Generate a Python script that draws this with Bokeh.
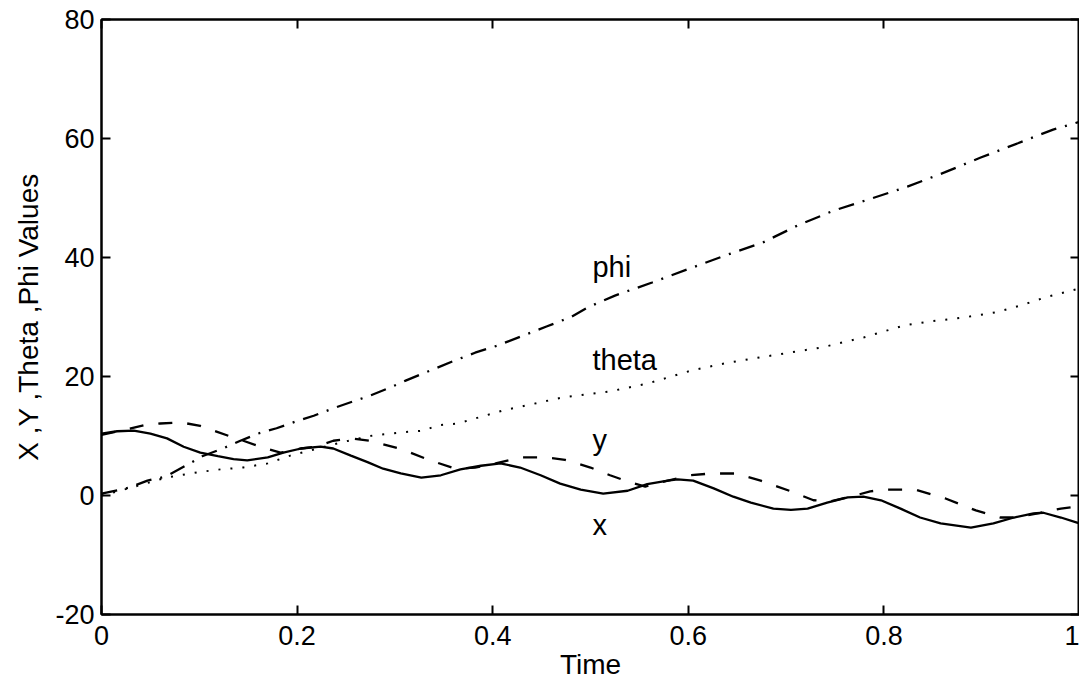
from bokeh.plotting import figure
from bokeh.models import LinearAxis, Range1d, FixedTicker, ColumnDataSource
from bokeh.core.properties import value
from bokeh.embed import file_html
from bokeh.resources import INLINE

# ---- data ----
x_ticks = [0, 0.2, 0.4, 0.6, 0.8, 1]
x_tick_labels = ["0", "0.2", "0.4", "0.6", "0.8", "1"]
y_ticks = [-20, 0, 20, 40, 60, 80]
y_tick_labels = ["-20", "0", "20", "40", "60", "80"]

x_t = [0.000, 0.016, 0.033, 0.050, 0.067, 0.084, 0.101, 0.119, 0.135, 0.149,
       0.170, 0.186, 0.204, 0.224, 0.237, 0.255, 0.272, 0.288, 0.306, 0.327,
       0.347, 0.367, 0.388, 0.408, 0.428, 0.449, 0.469, 0.490, 0.513, 0.538,
       0.558, 0.579, 0.589, 0.605, 0.626, 0.646, 0.664, 0.687, 0.705, 0.722,
       0.742, 0.763, 0.779, 0.797, 0.817, 0.837, 0.858, 0.889, 0.912, 0.933,
       0.953, 0.963, 0.981, 1.000]
x_v = [10.4, 10.8, 10.9, 10.4, 9.6, 8.2, 7.2, 6.6, 6.1, 5.9,
       6.4, 7.2, 7.9, 8.2, 7.9, 6.7, 5.6, 4.5, 3.7, 3.0,
       3.4, 4.4, 5.0, 5.4, 4.7, 3.4, 2.0, 1.0, 0.3, 0.8,
       1.9, 2.5, 2.7, 2.5, 1.2, -0.2, -1.2, -2.2, -2.4, -2.2,
       -1.2, -0.3, -0.2, -0.8, -2.2, -3.7, -4.7, -5.4, -4.7, -3.7,
       -3.0, -2.9, -3.7, -4.7]

y_t = [0.000, 0.020, 0.043, 0.060, 0.081, 0.101, 0.115, 0.132, 0.145, 0.168,
       0.183, 0.204, 0.219, 0.237, 0.255, 0.275, 0.304, 0.316, 0.336, 0.362,
       0.382, 0.403, 0.428, 0.454, 0.474, 0.500, 0.520, 0.541, 0.556, 0.577,
       0.602, 0.623, 0.648, 0.674, 0.705, 0.728, 0.745, 0.766, 0.786, 0.802,
       0.832, 0.863, 0.894, 0.919, 0.935, 0.960, 0.981, 1.000]
y_v = [10.2, 10.9, 11.8, 12.1, 12.3, 11.7, 10.9, 9.9, 9.2, 7.9,
       7.2, 7.9, 8.2, 9.2, 9.6, 9.2, 7.9, 7.2, 5.9, 4.5,
       4.7, 5.4, 6.4, 6.4, 6.0, 4.7, 3.4, 2.2, 1.5, 2.4,
       3.4, 3.7, 3.7, 2.5, 0.7, -0.8, -1.0, -0.2, 0.7, 1.0,
       1.0, -0.5, -2.5, -3.7, -3.7, -2.9, -2.2, -1.8]

theta_t = [0.000, 0.030, 0.066, 0.098, 0.122, 0.145, 0.170, 0.193, 0.230, 0.255,
           0.278, 0.306, 0.329, 0.344, 0.364, 0.411, 0.472, 0.520, 0.558, 0.603,
           0.640, 0.673, 0.737, 0.780, 0.821, 0.850, 0.881, 0.915, 0.939, 0.965,
           1.000]
theta_v = [0.0, 1.3, 3.0, 3.9, 4.4, 4.7, 5.4, 6.7, 8.3, 9.3,
           10.1, 10.6, 10.9, 11.8, 12.1, 14.3, 16.5, 17.5, 18.8, 21.0,
           22.3, 23.2, 24.9, 26.6, 28.6, 29.3, 29.9, 30.8, 31.9, 33.3,
           34.8]

phi_t = [0.000, 0.028, 0.047, 0.066, 0.086, 0.103, 0.124, 0.142, 0.160, 0.179,
         0.198, 0.217, 0.236, 0.257, 0.275, 0.293, 0.311, 0.336, 0.360, 0.382,
         0.405, 0.430, 0.455, 0.480, 0.497, 0.525, 0.563, 0.599, 0.637, 0.676,
         0.712, 0.749, 0.787, 0.824, 0.862, 0.899, 0.937, 0.973, 1.000]
phi_v = [0.3, 1.3, 2.5, 3.2, 5.0, 6.6, 7.9, 9.2, 10.4, 11.3,
         12.4, 13.4, 14.6, 15.8, 16.8, 18.0, 19.3, 21.0, 22.6, 24.0,
         25.2, 26.8, 28.4, 30.0, 31.6, 33.6, 35.8, 38.0, 40.3, 42.5,
         45.4, 47.9, 49.9, 51.9, 54.3, 56.8, 59.2, 61.5, 62.8]

label_text = ["phi", "theta", "y", "x"]
label_t = [0.502, 0.502, 0.502, 0.502]
label_v = [38.4, 22.8, 9.3, -5.0]

FONT = "Liberation Sans"

p = figure(frame_width=978, frame_height=595,
           x_range=Range1d(0, 1), y_range=Range1d(-20, 80),
           output_backend="svg", toolbar_location=None,
           min_border_left=101, min_border_top=19,
           min_border_right=0, min_border_bottom=0,
           background_fill_color="white", border_fill_color="white")
p.grid.visible = False
p.outline_line_color = "black"
p.outline_line_width = 2

p.line(x_t, x_v, line_color="black", line_width=2.3)
p.line(y_t, y_v, line_color="black", line_width=2.3, line_dash="14 15")
p.line(theta_t, theta_v, line_color="black", line_width=2, line_dash="2 10")
p.line(phi_t, phi_v, line_color="black", line_width=2.3, line_dash="16 9 2 9")

src = ColumnDataSource(dict(t=label_t, v=label_v, s=label_text))
p.text(x="t", y="v", text="s", source=src, text_font=value(FONT),
       text_font_size="29px", text_color="black",
       text_align="left", text_baseline="alphabetic")

def style_axis(ax, ticks):
    ax.ticker = FixedTicker(ticks=ticks)
    ax.major_tick_in = 9
    ax.major_tick_out = 0
    ax.minor_tick_line_color = None
    ax.axis_line_width = 2
    ax.major_tick_line_width = 2
    ax.axis_line_color = "black"
    ax.major_tick_line_color = "black"
    ax.major_label_text_font = FONT
    ax.major_label_text_font_size = "27px"
    ax.major_label_text_color = "black"

style_axis(p.xaxis[0], x_ticks)
style_axis(p.yaxis[0], y_ticks)
p.xaxis[0].major_label_standoff = 11
p.yaxis[0].major_label_standoff = 7
p.xaxis[0].major_label_overrides = dict(zip(x_ticks, x_tick_labels))
p.yaxis[0].major_label_overrides = dict(zip(y_ticks, y_tick_labels))
p.xaxis.axis_label = "Time"
p.yaxis.axis_label = "X ,Y ,Theta ,Phi Values"
for ax in (p.xaxis[0], p.yaxis[0]):
    ax.axis_label_text_font = FONT
    ax.axis_label_text_font_size = "28px"
    ax.axis_label_text_font_style = "normal"
    ax.axis_label_text_color = "black"
p.xaxis[0].axis_label_standoff = 1
p.yaxis[0].axis_label_standoff = 8

top = LinearAxis()
right = LinearAxis()
style_axis(top, x_ticks)
style_axis(right, y_ticks)
for ax, ticks in ((top, x_ticks), (right, y_ticks)):
    ax.major_label_overrides = {t: "" for t in ticks}
    ax.major_label_text_font_size = "0px"
    ax.major_label_standoff = 0
p.add_layout(top, "above")
p.add_layout(right, "right")

open("out.html", "w").write(file_html(p, INLINE))
